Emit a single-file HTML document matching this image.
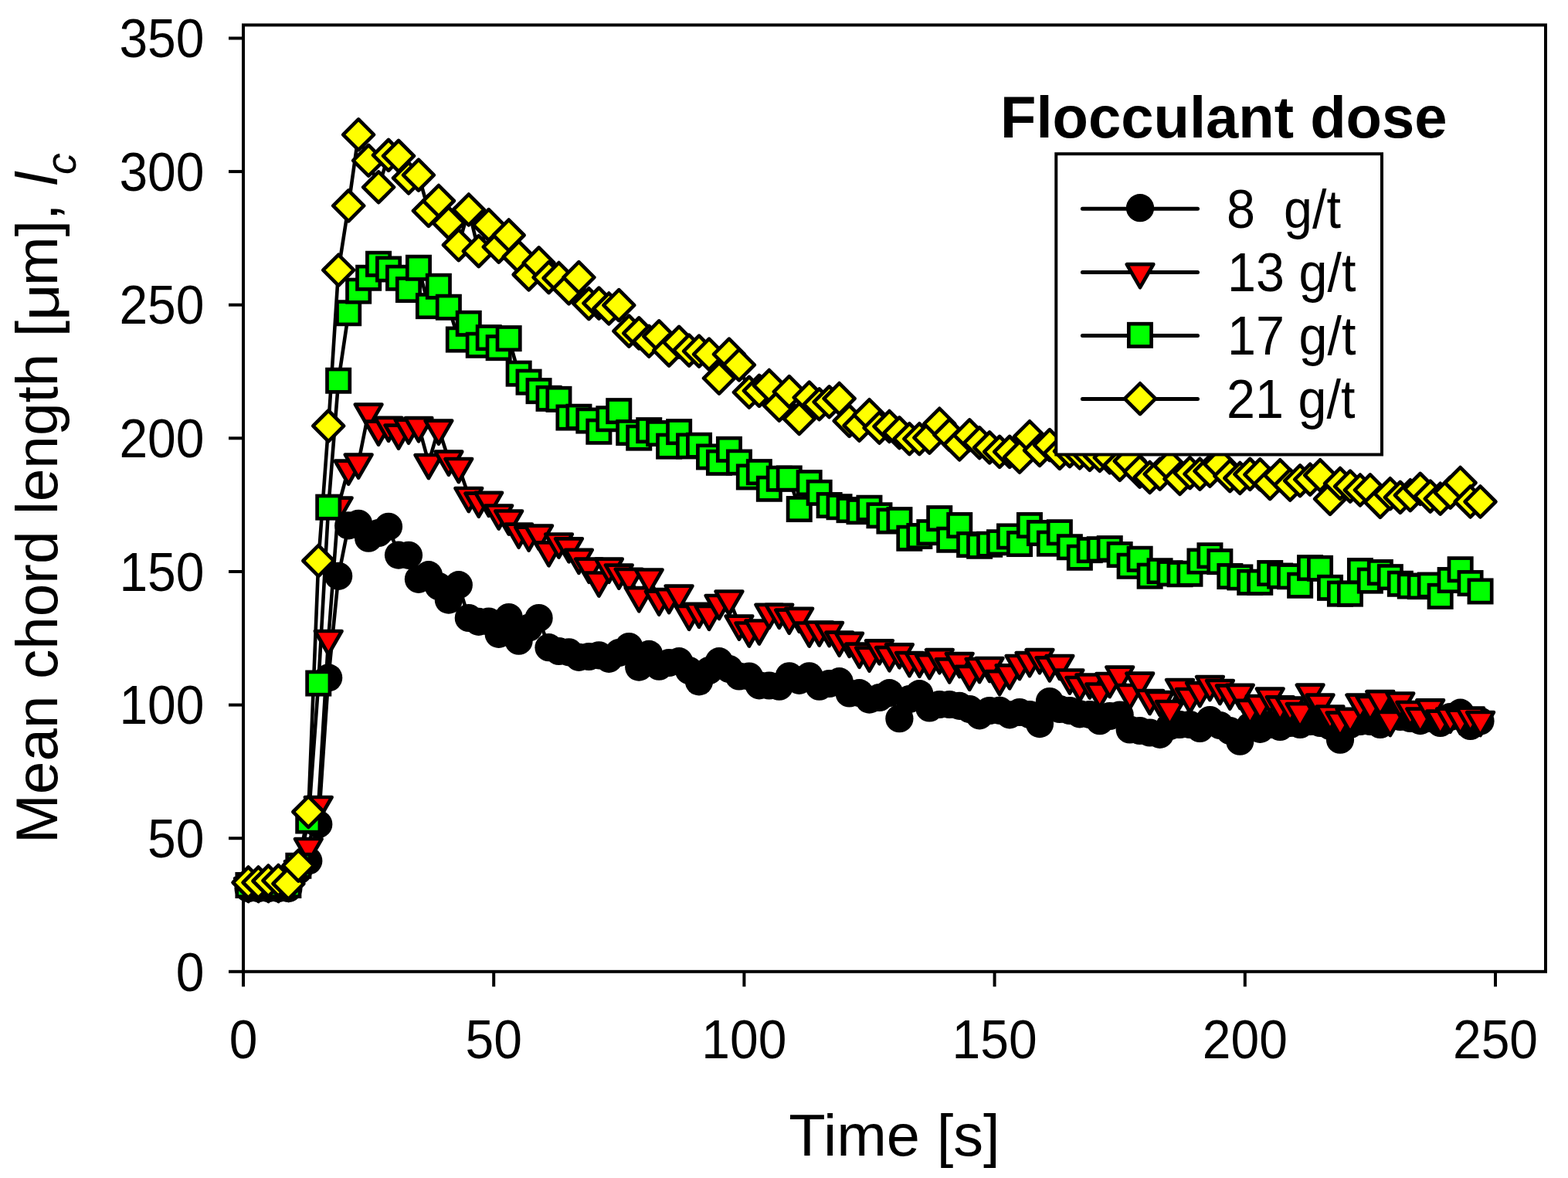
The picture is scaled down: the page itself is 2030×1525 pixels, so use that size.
<!DOCTYPE html>
<html lang="en"><head><meta charset="utf-8"><title>Mean chord length vs. time</title>
<style>html,body{margin:0;padding:0;background:#fff;}body{width:2030px;height:1525px;overflow:hidden;}svg{display:block;}text{font-family:"Liberation Sans",sans-serif;fill:#000;}</style>
</head><body>
<svg width="2030" height="1525" viewBox="0 0 2030 1525" role="img" aria-label="Mean chord length versus time for four flocculant doses">
<rect x="0" y="0" width="2030" height="1525" fill="#fff"/>
<g fill="none" stroke="#000" stroke-width="4" stroke-linecap="butt">
<rect x="315" y="32.4" width="1686" height="1225.4"/>
<line x1="296" y1="1257.8" x2="315" y2="1257.8"/>
<line x1="296" y1="1085.2" x2="315" y2="1085.2"/>
<line x1="296" y1="912.6" x2="315" y2="912.6"/>
<line x1="296" y1="740" x2="315" y2="740"/>
<line x1="296" y1="567.3" x2="315" y2="567.3"/>
<line x1="296" y1="394.7" x2="315" y2="394.7"/>
<line x1="296" y1="222.1" x2="315" y2="222.1"/>
<line x1="296" y1="49.5" x2="315" y2="49.5"/>
<line x1="315" y1="1257.8" x2="315" y2="1277.3"/>
<line x1="639.2" y1="1257.8" x2="639.2" y2="1277.3"/>
<line x1="963.4" y1="1257.8" x2="963.4" y2="1277.3"/>
<line x1="1287.6" y1="1257.8" x2="1287.6" y2="1277.3"/>
<line x1="1611.8" y1="1257.8" x2="1611.8" y2="1277.3"/>
<line x1="1936" y1="1257.8" x2="1936" y2="1277.3"/>
</g>
<g font-size="66">
<text transform="translate(264.5 1282.5) scale(1 1.065)" text-anchor="end">0</text>
<text transform="translate(264.5 1109.9) scale(1 1.065)" text-anchor="end">50</text>
<text transform="translate(264.5 937.3) scale(1 1.065)" text-anchor="end">100</text>
<text transform="translate(264.5 764.7) scale(1 1.065)" text-anchor="end">150</text>
<text transform="translate(264.5 592) scale(1 1.065)" text-anchor="end">200</text>
<text transform="translate(264.5 419.4) scale(1 1.065)" text-anchor="end">250</text>
<text transform="translate(264.5 246.8) scale(1 1.065)" text-anchor="end">300</text>
<text transform="translate(264.5 74.2) scale(1 1.065)" text-anchor="end">350</text>
<text transform="translate(315 1370) scale(1 1.065)" text-anchor="middle">0</text>
<text transform="translate(639.2 1370) scale(1 1.065)" text-anchor="middle">50</text>
<text transform="translate(963.4 1370) scale(1 1.065)" text-anchor="middle">100</text>
<text transform="translate(1287.6 1370) scale(1 1.065)" text-anchor="middle">150</text>
<text transform="translate(1611.8 1370) scale(1 1.065)" text-anchor="middle">200</text>
<text transform="translate(1936 1370) scale(1 1.065)" text-anchor="middle">250</text>
</g>
<text transform="translate(1158 1495.8) scale(1.014 1)" font-size="76.6" text-anchor="middle">Time [s]</text>
<g transform="translate(73.9 0) rotate(-90)" font-size="76.6">
<text x="-1092" y="0">Mean chord length [</text>
<text transform="translate(-415.6 2.5) scale(1.17 1)" font-size="72.2" font-family="'Liberation Serif',serif">μ</text>
<text x="-370" y="0">m],</text>
<text x="-240.3" y="0" font-style="italic">l</text>
<text x="-226" y="24.2" font-style="italic" font-size="56">c</text>
</g>
<g fill="none" stroke="#000" stroke-width="4.6" stroke-linejoin="round" stroke-linecap="round">
<polyline points="321.5,1150 334.5,1150 347.4,1150 360.4,1150 373.4,1150 386.3,1127 399.3,1114.4 412.3,1067 425.2,877.4 438.2,745.8 451.2,680.4 464.1,677.8 477.1,696.7 490.1,690 503,681.8 516,718.6 529,718.8 541.9,749.8 554.9,744.2 567.9,759 580.8,776.6 593.8,757.2 606.8,800 619.7,804.9 632.7,804.5 645.7,820.9 658.7,799 671.6,829.7 684.6,812.6 697.6,800 710.5,838.2 723.5,843 736.5,844.3 749.4,850.8 762.4,850 775.4,848.3 788.3,852.8 801.3,845 814.3,837 827.2,863.6 840.2,846.9 853.2,862.7 866.1,858 879.1,856.2 892.1,868 905,882.4 918,868 931,856.2 943.9,866 956.9,875.5 969.9,875.5 982.9,887.3 995.8,887.5 1008.8,888.7 1021.8,875.3 1034.7,880.8 1047.7,875.3 1060.7,888.7 1073.6,885 1086.6,882.2 1099.6,897.5 1112.5,897.1 1125.5,905.6 1138.5,903 1151.4,897.1 1164.4,930.2 1177.4,905 1190.3,898.1 1203.3,916.5 1216.3,912 1229.2,912 1242.2,913.9 1255.2,918 1268.1,926.3 1281.1,920 1294.1,919.8 1307.1,925.3 1320,922 1333,925 1346,937.1 1358.9,908 1371.9,918 1384.9,920 1397.8,924.3 1410.8,925 1423.8,933.2 1436.7,927 1449.7,925.5 1462.7,944.5 1475.6,946 1488.6,948.5 1501.6,950.8 1514.5,940 1527.5,938 1540.5,938 1553.4,943 1566.4,932 1579.4,939 1592.3,946 1605.3,959.7 1618.3,940 1631.3,943.9 1644.2,938 1657.2,941 1670.2,936 1683.1,938 1696.1,934 1709.1,936 1722,940 1735,957.7 1748,938 1760.9,934 1773.9,934 1786.9,938 1799.8,925.5 1812.8,928 1825.8,930 1838.7,933.1 1851.7,930 1864.7,936 1877.6,928 1890.6,922.7 1903.6,940 1916.5,933.5"/>
<polyline points="321.5,1147 334.5,1147 347.4,1147 360.4,1147 373.4,1146 386.3,1125 399.3,1096 412.3,1042 425.2,827 438.2,654.6 451.2,606.7 464.1,598.6 477.1,533.6 490.1,555.7 503,550.8 516,560.6 529,553.7 541.9,551.2 554.9,599 567.9,554.7 580.8,594.7 593.8,604 606.8,642 619.7,648.7 632.7,647.9 645.7,664.5 658.7,671.5 671.6,688.7 684.6,692.6 697.6,690.7 710.5,712.3 723.5,701.5 736.5,707.3 749.4,721.9 762.4,733.7 775.4,751.5 788.3,733.7 801.3,741.6 814.3,746.9 827.2,771.2 840.2,747.5 853.2,775.7 866.1,773.1 879.1,768.6 892.1,794.8 905,791.8 918,794.8 931,781 943.9,775.5 956.9,807.6 969.9,816.5 982.9,813.5 995.8,792.8 1008.8,792.8 1021.8,799.7 1034.7,797.8 1047.7,816.5 1060.7,815.5 1073.6,816.1 1086.6,828.7 1099.6,829.9 1112.5,843.7 1125.5,848.6 1138.5,839.3 1151.4,848.2 1164.4,844.3 1177.4,855.1 1190.3,855.7 1203.3,858.1 1216.3,851.2 1229.2,863.4 1242.2,856.1 1255.2,872.8 1268.1,863 1281.1,862 1294.1,879.1 1307.1,871.3 1320,859 1333,855.1 1346,851.2 1358.9,861.4 1371.9,859 1384.9,877.5 1397.8,887 1410.8,883.5 1423.8,895.5 1436.7,882 1449.7,873.6 1462.7,897 1475.6,881.7 1488.6,904 1501.6,906 1514.5,918 1527.5,890 1540.5,902 1553.4,894.1 1566.4,886.1 1579.4,891 1592.3,897.6 1605.3,896.9 1618.3,916.8 1631.3,911 1644.2,901.6 1657.2,912.4 1670.2,913.6 1683.1,921.2 1696.1,896.7 1709.1,909.7 1722,924.5 1735,932.6 1748,927.8 1760.9,909.7 1773.9,912 1786.9,905.2 1799.8,932 1812.8,907.5 1825.8,919 1838.7,927.6 1851.7,916.4 1864.7,930.6 1877.6,927.6 1890.6,929.6 1903.6,926.7 1916.5,932"/>
<polyline points="321.5,1146 334.5,1146 347.4,1146 360.4,1146 373.4,1146 386.3,1120.8 399.3,1062.5 412.3,884.5 425.2,656.6 438.2,492.7 451.2,405.2 464.1,376.6 477.1,359.7 490.1,341.7 503,348.4 516,359.7 529,375 541.9,346.7 554.9,396.1 567.9,370.7 580.8,397.7 593.8,439.5 606.8,418.8 619.7,446.7 632.7,437.1 645.7,450.1 658.7,438.1 671.6,483.6 684.6,494.6 697.6,506.1 710.5,515.9 723.5,516.9 736.5,540.5 749.4,539.8 762.4,544.5 775.4,558.7 788.3,542.3 801.3,532.1 814.3,560 827.2,566.6 840.2,557.1 853.2,561 866.1,577.6 879.1,559.1 892.1,577.4 905,576.8 918,591.4 931,598.9 943.9,581.9 956.9,598.5 969.9,617.4 982.9,611.1 995.8,632.8 1008.8,619.8 1021.8,619.4 1034.7,659 1047.7,625.1 1060.7,637.9 1073.6,654 1086.6,656.2 1099.6,660.1 1112.5,662.1 1125.5,657.7 1138.5,667.2 1151.4,674.5 1164.4,673.1 1177.4,696.7 1190.3,694 1203.3,689.1 1216.3,671.1 1229.2,698.7 1242.2,680 1255.2,705 1268.1,706.8 1281.1,704.8 1294.1,702.3 1307.1,694.4 1320,704 1333,680 1346,690 1358.9,703.6 1371.9,689.3 1384.9,708.2 1397.8,721.8 1410.8,712.1 1423.8,711.3 1436.7,710.1 1449.7,718 1462.7,732.8 1475.6,723.7 1488.6,745.6 1501.6,739.3 1514.5,742.3 1527.5,743.3 1540.5,742.7 1553.4,726.5 1566.4,719.2 1579.4,727.1 1592.3,746 1605.3,747.4 1618.3,753.9 1631.3,753.9 1644.2,742 1657.2,745.5 1670.2,746.3 1683.1,757.7 1696.1,735.1 1709.1,735.9 1722,760.9 1735,768.6 1748,768.6 1760.9,739 1773.9,751.6 1786.9,741 1799.8,747.1 1812.8,755.8 1825.8,758.5 1838.7,759.1 1851.7,757.5 1864.7,771.9 1877.6,751 1890.6,737.2 1903.6,755 1916.5,765.4"/>
<polyline points="321.5,1142.5 334.5,1142.5 347.4,1140.5 360.4,1140 373.4,1144 386.3,1120.7 399.3,1051 412.3,726 425.2,551.4 438.2,349.7 451.2,266.4 464.1,174.3 477.1,207.8 490.1,242.3 503,200.9 516,201.9 529,230.5 541.9,226.6 554.9,272.9 567.9,260 580.8,288.6 593.8,317.2 606.8,271.5 619.7,325.1 632.7,291.1 645.7,319.7 658.7,304.5 671.6,332.5 684.6,355.5 697.6,340.3 710.5,359.1 723.5,360 736.5,373.4 749.4,359.1 762.4,393.2 775.4,392.6 788.3,399.5 801.3,395.1 814.3,428.6 827.2,431.4 840.2,441.8 853.2,435.3 866.1,453.6 879.1,442.8 892.1,453.6 905,454.6 918,458.6 931,489.7 943.9,458.6 956.9,472.4 969.9,507.8 982.9,505.9 995.8,499 1008.8,524.8 1021.8,507.1 1034.7,542 1047.7,514.6 1060.7,523.3 1073.6,520.3 1086.6,516 1099.6,544.9 1112.5,550.8 1125.5,537.2 1138.5,553.8 1151.4,552 1164.4,560.3 1177.4,568.2 1190.3,568.2 1203.3,566.6 1216.3,548.7 1229.2,562.9 1242.2,575.5 1255.2,563.3 1268.1,573.3 1281.1,579.4 1294.1,584.9 1307.1,584.9 1320,591.8 1333,565.2 1346,583 1358.9,576.1 1371.9,586.9 1384.9,584.1 1397.8,586.5 1410.8,588.9 1423.8,590 1436.7,592.4 1449.7,601.9 1462.7,596.9 1475.6,610.7 1488.6,618 1501.6,613.7 1514.5,602.9 1527.5,620 1540.5,612.1 1553.4,613.7 1566.4,609.8 1579.4,600.9 1592.3,616.1 1605.3,619 1618.3,613.9 1631.3,614.3 1644.2,626.2 1657.2,615.2 1670.2,627.8 1683.1,622.3 1696.1,620.7 1709.1,615.2 1722,645.9 1735,626 1748,629.6 1760.9,634.5 1773.9,634.3 1786.9,649.9 1799.8,639.2 1812.8,643.9 1825.8,641.2 1838.7,632.9 1851.7,642.6 1864.7,645.7 1877.6,637.6 1890.6,625 1903.6,649.5 1916.5,649.5"/>
</g>
<g fill="#000" stroke="none">
<circle cx="321.5" cy="1150" r="18.1"/><circle cx="334.5" cy="1150" r="18.1"/><circle cx="347.4" cy="1150" r="18.1"/><circle cx="360.4" cy="1150" r="18.1"/><circle cx="373.4" cy="1150" r="18.1"/><circle cx="386.3" cy="1127" r="18.1"/><circle cx="399.3" cy="1114.4" r="18.1"/><circle cx="412.3" cy="1067" r="18.1"/><circle cx="425.2" cy="877.4" r="18.1"/><circle cx="438.2" cy="745.8" r="18.1"/><circle cx="451.2" cy="680.4" r="18.1"/><circle cx="464.1" cy="677.8" r="18.1"/><circle cx="477.1" cy="696.7" r="18.1"/><circle cx="490.1" cy="690" r="18.1"/><circle cx="503" cy="681.8" r="18.1"/><circle cx="516" cy="718.6" r="18.1"/><circle cx="529" cy="718.8" r="18.1"/><circle cx="541.9" cy="749.8" r="18.1"/><circle cx="554.9" cy="744.2" r="18.1"/><circle cx="567.9" cy="759" r="18.1"/><circle cx="580.8" cy="776.6" r="18.1"/><circle cx="593.8" cy="757.2" r="18.1"/><circle cx="606.8" cy="800" r="18.1"/><circle cx="619.7" cy="804.9" r="18.1"/><circle cx="632.7" cy="804.5" r="18.1"/><circle cx="645.7" cy="820.9" r="18.1"/><circle cx="658.7" cy="799" r="18.1"/><circle cx="671.6" cy="829.7" r="18.1"/><circle cx="684.6" cy="812.6" r="18.1"/><circle cx="697.6" cy="800" r="18.1"/><circle cx="710.5" cy="838.2" r="18.1"/><circle cx="723.5" cy="843" r="18.1"/><circle cx="736.5" cy="844.3" r="18.1"/><circle cx="749.4" cy="850.8" r="18.1"/><circle cx="762.4" cy="850" r="18.1"/><circle cx="775.4" cy="848.3" r="18.1"/><circle cx="788.3" cy="852.8" r="18.1"/><circle cx="801.3" cy="845" r="18.1"/><circle cx="814.3" cy="837" r="18.1"/><circle cx="827.2" cy="863.6" r="18.1"/><circle cx="840.2" cy="846.9" r="18.1"/><circle cx="853.2" cy="862.7" r="18.1"/><circle cx="866.1" cy="858" r="18.1"/><circle cx="879.1" cy="856.2" r="18.1"/><circle cx="892.1" cy="868" r="18.1"/><circle cx="905" cy="882.4" r="18.1"/><circle cx="918" cy="868" r="18.1"/><circle cx="931" cy="856.2" r="18.1"/><circle cx="943.9" cy="866" r="18.1"/><circle cx="956.9" cy="875.5" r="18.1"/><circle cx="969.9" cy="875.5" r="18.1"/><circle cx="982.9" cy="887.3" r="18.1"/><circle cx="995.8" cy="887.5" r="18.1"/><circle cx="1008.8" cy="888.7" r="18.1"/><circle cx="1021.8" cy="875.3" r="18.1"/><circle cx="1034.7" cy="880.8" r="18.1"/><circle cx="1047.7" cy="875.3" r="18.1"/><circle cx="1060.7" cy="888.7" r="18.1"/><circle cx="1073.6" cy="885" r="18.1"/><circle cx="1086.6" cy="882.2" r="18.1"/><circle cx="1099.6" cy="897.5" r="18.1"/><circle cx="1112.5" cy="897.1" r="18.1"/><circle cx="1125.5" cy="905.6" r="18.1"/><circle cx="1138.5" cy="903" r="18.1"/><circle cx="1151.4" cy="897.1" r="18.1"/><circle cx="1164.4" cy="930.2" r="18.1"/><circle cx="1177.4" cy="905" r="18.1"/><circle cx="1190.3" cy="898.1" r="18.1"/><circle cx="1203.3" cy="916.5" r="18.1"/><circle cx="1216.3" cy="912" r="18.1"/><circle cx="1229.2" cy="912" r="18.1"/><circle cx="1242.2" cy="913.9" r="18.1"/><circle cx="1255.2" cy="918" r="18.1"/><circle cx="1268.1" cy="926.3" r="18.1"/><circle cx="1281.1" cy="920" r="18.1"/><circle cx="1294.1" cy="919.8" r="18.1"/><circle cx="1307.1" cy="925.3" r="18.1"/><circle cx="1320" cy="922" r="18.1"/><circle cx="1333" cy="925" r="18.1"/><circle cx="1346" cy="937.1" r="18.1"/><circle cx="1358.9" cy="908" r="18.1"/><circle cx="1371.9" cy="918" r="18.1"/><circle cx="1384.9" cy="920" r="18.1"/><circle cx="1397.8" cy="924.3" r="18.1"/><circle cx="1410.8" cy="925" r="18.1"/><circle cx="1423.8" cy="933.2" r="18.1"/><circle cx="1436.7" cy="927" r="18.1"/><circle cx="1449.7" cy="925.5" r="18.1"/><circle cx="1462.7" cy="944.5" r="18.1"/><circle cx="1475.6" cy="946" r="18.1"/><circle cx="1488.6" cy="948.5" r="18.1"/><circle cx="1501.6" cy="950.8" r="18.1"/><circle cx="1514.5" cy="940" r="18.1"/><circle cx="1527.5" cy="938" r="18.1"/><circle cx="1540.5" cy="938" r="18.1"/><circle cx="1553.4" cy="943" r="18.1"/><circle cx="1566.4" cy="932" r="18.1"/><circle cx="1579.4" cy="939" r="18.1"/><circle cx="1592.3" cy="946" r="18.1"/><circle cx="1605.3" cy="959.7" r="18.1"/><circle cx="1618.3" cy="940" r="18.1"/><circle cx="1631.3" cy="943.9" r="18.1"/><circle cx="1644.2" cy="938" r="18.1"/><circle cx="1657.2" cy="941" r="18.1"/><circle cx="1670.2" cy="936" r="18.1"/><circle cx="1683.1" cy="938" r="18.1"/><circle cx="1696.1" cy="934" r="18.1"/><circle cx="1709.1" cy="936" r="18.1"/><circle cx="1722" cy="940" r="18.1"/><circle cx="1735" cy="957.7" r="18.1"/><circle cx="1748" cy="938" r="18.1"/><circle cx="1760.9" cy="934" r="18.1"/><circle cx="1773.9" cy="934" r="18.1"/><circle cx="1786.9" cy="938" r="18.1"/><circle cx="1799.8" cy="925.5" r="18.1"/><circle cx="1812.8" cy="928" r="18.1"/><circle cx="1825.8" cy="930" r="18.1"/><circle cx="1838.7" cy="933.1" r="18.1"/><circle cx="1851.7" cy="930" r="18.1"/><circle cx="1864.7" cy="936" r="18.1"/><circle cx="1877.6" cy="928" r="18.1"/><circle cx="1890.6" cy="922.7" r="18.1"/><circle cx="1903.6" cy="940" r="18.1"/><circle cx="1916.5" cy="933.5" r="18.1"/>
</g>
<g fill="#ff0000" stroke="#000" stroke-width="4.7" stroke-linejoin="round">
<path d="M304.2 1137L338.8 1137L321.5 1167Z"/><path d="M317.1 1137L351.8 1137L334.5 1167Z"/><path d="M330.1 1137L364.7 1137L347.4 1167Z"/><path d="M343.1 1137L377.7 1137L360.4 1167Z"/><path d="M356 1136L390.7 1136L373.4 1166Z"/><path d="M369 1115L403.6 1115L386.3 1145Z"/><path d="M382 1086L416.6 1086L399.3 1116Z"/><path d="M394.9 1032L429.6 1032L412.3 1062Z"/><path d="M407.9 817L442.5 817L425.2 847Z"/><path d="M420.9 644.6L455.5 644.6L438.2 674.6Z"/><path d="M433.8 596.7L468.5 596.7L451.2 626.7Z"/><path d="M446.8 588.6L481.5 588.6L464.1 618.6Z"/><path d="M459.8 523.6L494.4 523.6L477.1 553.6Z"/><path d="M472.7 545.7L507.4 545.7L490.1 575.7Z"/><path d="M485.7 540.8L520.4 540.8L503 570.8Z"/><path d="M498.7 550.6L533.3 550.6L516 580.6Z"/><path d="M511.7 543.7L546.3 543.7L529 573.7Z"/><path d="M524.6 541.2L559.3 541.2L541.9 571.2Z"/><path d="M537.6 589L572.2 589L554.9 619Z"/><path d="M550.6 544.7L585.2 544.7L567.9 574.7Z"/><path d="M563.5 584.7L598.2 584.7L580.8 614.7Z"/><path d="M576.5 594L611.1 594L593.8 624Z"/><path d="M589.5 632L624.1 632L606.8 662Z"/><path d="M602.4 638.7L637.1 638.7L619.7 668.7Z"/><path d="M615.4 637.9L650 637.9L632.7 667.9Z"/><path d="M628.4 654.5L663 654.5L645.7 684.5Z"/><path d="M641.3 661.5L676 661.5L658.7 691.5Z"/><path d="M654.3 678.7L688.9 678.7L671.6 708.7Z"/><path d="M667.3 682.6L701.9 682.6L684.6 712.6Z"/><path d="M680.2 680.7L714.9 680.7L697.6 710.7Z"/><path d="M693.2 702.3L727.8 702.3L710.5 732.3Z"/><path d="M706.2 691.5L740.8 691.5L723.5 721.5Z"/><path d="M719.1 697.3L753.8 697.3L736.5 727.3Z"/><path d="M732.1 711.9L766.7 711.9L749.4 741.9Z"/><path d="M745.1 723.7L779.7 723.7L762.4 753.7Z"/><path d="M758 741.5L792.7 741.5L775.4 771.5Z"/><path d="M771 723.7L805.7 723.7L788.3 753.7Z"/><path d="M784 731.6L818.6 731.6L801.3 761.6Z"/><path d="M796.9 736.9L831.6 736.9L814.3 766.9Z"/><path d="M809.9 761.2L844.6 761.2L827.2 791.2Z"/><path d="M822.9 737.5L857.5 737.5L840.2 767.5Z"/><path d="M835.9 765.7L870.5 765.7L853.2 795.7Z"/><path d="M848.8 763.1L883.5 763.1L866.1 793.1Z"/><path d="M861.8 758.6L896.4 758.6L879.1 788.6Z"/><path d="M874.8 784.8L909.4 784.8L892.1 814.8Z"/><path d="M887.7 781.8L922.4 781.8L905 811.8Z"/><path d="M900.7 784.8L935.3 784.8L918 814.8Z"/><path d="M913.7 771L948.3 771L931 801Z"/><path d="M926.6 765.5L961.3 765.5L943.9 795.5Z"/><path d="M939.6 797.6L974.2 797.6L956.9 827.6Z"/><path d="M952.6 806.5L987.2 806.5L969.9 836.5Z"/><path d="M965.5 803.5L1000.2 803.5L982.9 833.5Z"/><path d="M978.5 782.8L1013.1 782.8L995.8 812.8Z"/><path d="M991.5 782.8L1026.1 782.8L1008.8 812.8Z"/><path d="M1004.4 789.7L1039.1 789.7L1021.8 819.7Z"/><path d="M1017.4 787.8L1052 787.8L1034.7 817.8Z"/><path d="M1030.4 806.5L1065 806.5L1047.7 836.5Z"/><path d="M1043.3 805.5L1078 805.5L1060.7 835.5Z"/><path d="M1056.3 806.1L1090.9 806.1L1073.6 836.1Z"/><path d="M1069.3 818.7L1103.9 818.7L1086.6 848.7Z"/><path d="M1082.2 819.9L1116.9 819.9L1099.6 849.9Z"/><path d="M1095.2 833.7L1129.9 833.7L1112.5 863.7Z"/><path d="M1108.2 838.6L1142.8 838.6L1125.5 868.6Z"/><path d="M1121.1 829.3L1155.8 829.3L1138.5 859.3Z"/><path d="M1134.1 838.2L1168.8 838.2L1151.4 868.2Z"/><path d="M1147.1 834.3L1181.7 834.3L1164.4 864.3Z"/><path d="M1160.1 845.1L1194.7 845.1L1177.4 875.1Z"/><path d="M1173 845.7L1207.7 845.7L1190.3 875.7Z"/><path d="M1186 848.1L1220.6 848.1L1203.3 878.1Z"/><path d="M1199 841.2L1233.6 841.2L1216.3 871.2Z"/><path d="M1211.9 853.4L1246.6 853.4L1229.2 883.4Z"/><path d="M1224.9 846.1L1259.5 846.1L1242.2 876.1Z"/><path d="M1237.9 862.8L1272.5 862.8L1255.2 892.8Z"/><path d="M1250.8 853L1285.5 853L1268.1 883Z"/><path d="M1263.8 852L1298.4 852L1281.1 882Z"/><path d="M1276.8 869.1L1311.4 869.1L1294.1 899.1Z"/><path d="M1289.7 861.3L1324.4 861.3L1307.1 891.3Z"/><path d="M1302.7 849L1337.3 849L1320 879Z"/><path d="M1315.7 845.1L1350.3 845.1L1333 875.1Z"/><path d="M1328.6 841.2L1363.3 841.2L1346 871.2Z"/><path d="M1341.6 851.4L1376.2 851.4L1358.9 881.4Z"/><path d="M1354.6 849L1389.2 849L1371.9 879Z"/><path d="M1367.5 867.5L1402.2 867.5L1384.9 897.5Z"/><path d="M1380.5 877L1415.1 877L1397.8 907Z"/><path d="M1393.5 873.5L1428.1 873.5L1410.8 903.5Z"/><path d="M1406.4 885.5L1441.1 885.5L1423.8 915.5Z"/><path d="M1419.4 872L1454.1 872L1436.7 902Z"/><path d="M1432.4 863.6L1467 863.6L1449.7 893.6Z"/><path d="M1445.3 887L1480 887L1462.7 917Z"/><path d="M1458.3 871.7L1493 871.7L1475.6 901.7Z"/><path d="M1471.3 894L1505.9 894L1488.6 924Z"/><path d="M1484.3 896L1518.9 896L1501.6 926Z"/><path d="M1497.2 908L1531.9 908L1514.5 938Z"/><path d="M1510.2 880L1544.8 880L1527.5 910Z"/><path d="M1523.2 892L1557.8 892L1540.5 922Z"/><path d="M1536.1 884.1L1570.8 884.1L1553.4 914.1Z"/><path d="M1549.1 876.1L1583.7 876.1L1566.4 906.1Z"/><path d="M1562.1 881L1596.7 881L1579.4 911Z"/><path d="M1575 887.6L1609.7 887.6L1592.3 917.6Z"/><path d="M1588 886.9L1622.6 886.9L1605.3 916.9Z"/><path d="M1601 906.8L1635.6 906.8L1618.3 936.8Z"/><path d="M1613.9 901L1648.6 901L1631.3 931Z"/><path d="M1626.9 891.6L1661.5 891.6L1644.2 921.6Z"/><path d="M1639.9 902.4L1674.5 902.4L1657.2 932.4Z"/><path d="M1652.8 903.6L1687.5 903.6L1670.2 933.6Z"/><path d="M1665.8 911.2L1700.4 911.2L1683.1 941.2Z"/><path d="M1678.8 886.7L1713.4 886.7L1696.1 916.7Z"/><path d="M1691.7 899.7L1726.4 899.7L1709.1 929.7Z"/><path d="M1704.7 914.5L1739.3 914.5L1722 944.5Z"/><path d="M1717.7 922.6L1752.3 922.6L1735 952.6Z"/><path d="M1730.6 917.8L1765.3 917.8L1748 947.8Z"/><path d="M1743.6 899.7L1778.3 899.7L1760.9 929.7Z"/><path d="M1756.6 902L1791.2 902L1773.9 932Z"/><path d="M1769.5 895.2L1804.2 895.2L1786.9 925.2Z"/><path d="M1782.5 922L1817.2 922L1799.8 952Z"/><path d="M1795.5 897.5L1830.1 897.5L1812.8 927.5Z"/><path d="M1808.5 909L1843.1 909L1825.8 939Z"/><path d="M1821.4 917.6L1856.1 917.6L1838.7 947.6Z"/><path d="M1834.4 906.4L1869 906.4L1851.7 936.4Z"/><path d="M1847.4 920.6L1882 920.6L1864.7 950.6Z"/><path d="M1860.3 917.6L1895 917.6L1877.6 947.6Z"/><path d="M1873.3 919.6L1907.9 919.6L1890.6 949.6Z"/><path d="M1886.3 916.7L1920.9 916.7L1903.6 946.7Z"/><path d="M1899.2 922L1933.9 922L1916.5 952Z"/>
</g>
<g fill="#00ff00" stroke="#000" stroke-width="4.7" stroke-linejoin="miter">
<rect x="306.8" y="1131.3" width="29.3" height="29.3"/><rect x="319.8" y="1131.3" width="29.3" height="29.3"/><rect x="332.8" y="1131.3" width="29.3" height="29.3"/><rect x="345.7" y="1131.3" width="29.3" height="29.3"/><rect x="358.7" y="1131.3" width="29.3" height="29.3"/><rect x="371.7" y="1106.1" width="29.3" height="29.3"/><rect x="384.6" y="1047.8" width="29.3" height="29.3"/><rect x="397.6" y="869.9" width="29.3" height="29.3"/><rect x="410.6" y="642" width="29.3" height="29.3"/><rect x="423.5" y="478.1" width="29.3" height="29.3"/><rect x="436.5" y="390.6" width="29.3" height="29.3"/><rect x="449.5" y="362" width="29.3" height="29.3"/><rect x="462.5" y="345.1" width="29.3" height="29.3"/><rect x="475.4" y="327.1" width="29.3" height="29.3"/><rect x="488.4" y="333.8" width="29.3" height="29.3"/><rect x="501.4" y="345.1" width="29.3" height="29.3"/><rect x="514.3" y="360.4" width="29.3" height="29.3"/><rect x="527.3" y="332.1" width="29.3" height="29.3"/><rect x="540.3" y="381.5" width="29.3" height="29.3"/><rect x="553.2" y="356.1" width="29.3" height="29.3"/><rect x="566.2" y="383.1" width="29.3" height="29.3"/><rect x="579.2" y="424.9" width="29.3" height="29.3"/><rect x="592.1" y="404.2" width="29.3" height="29.3"/><rect x="605.1" y="432.1" width="29.3" height="29.3"/><rect x="618.1" y="422.5" width="29.3" height="29.3"/><rect x="631" y="435.5" width="29.3" height="29.3"/><rect x="644" y="423.5" width="29.3" height="29.3"/><rect x="657" y="469" width="29.3" height="29.3"/><rect x="669.9" y="480" width="29.3" height="29.3"/><rect x="682.9" y="491.5" width="29.3" height="29.3"/><rect x="695.9" y="501.2" width="29.3" height="29.3"/><rect x="708.8" y="502.2" width="29.3" height="29.3"/><rect x="721.8" y="525.9" width="29.3" height="29.3"/><rect x="734.8" y="525.1" width="29.3" height="29.3"/><rect x="747.7" y="529.9" width="29.3" height="29.3"/><rect x="760.7" y="544.1" width="29.3" height="29.3"/><rect x="773.7" y="527.6" width="29.3" height="29.3"/><rect x="786.6" y="517.5" width="29.3" height="29.3"/><rect x="799.6" y="545.4" width="29.3" height="29.3"/><rect x="812.6" y="552" width="29.3" height="29.3"/><rect x="825.6" y="542.5" width="29.3" height="29.3"/><rect x="838.5" y="546.4" width="29.3" height="29.3"/><rect x="851.5" y="563" width="29.3" height="29.3"/><rect x="864.5" y="544.5" width="29.3" height="29.3"/><rect x="877.4" y="562.8" width="29.3" height="29.3"/><rect x="890.4" y="562.1" width="29.3" height="29.3"/><rect x="903.4" y="576.8" width="29.3" height="29.3"/><rect x="916.3" y="584.2" width="29.3" height="29.3"/><rect x="929.3" y="567.2" width="29.3" height="29.3"/><rect x="942.3" y="583.9" width="29.3" height="29.3"/><rect x="955.2" y="602.8" width="29.3" height="29.3"/><rect x="968.2" y="596.5" width="29.3" height="29.3"/><rect x="981.2" y="618.1" width="29.3" height="29.3"/><rect x="994.1" y="605.1" width="29.3" height="29.3"/><rect x="1007.1" y="604.8" width="29.3" height="29.3"/><rect x="1020.1" y="644.4" width="29.3" height="29.3"/><rect x="1033" y="610.5" width="29.3" height="29.3"/><rect x="1046" y="623.2" width="29.3" height="29.3"/><rect x="1059" y="639.4" width="29.3" height="29.3"/><rect x="1071.9" y="641.6" width="29.3" height="29.3"/><rect x="1084.9" y="645.5" width="29.3" height="29.3"/><rect x="1097.9" y="647.5" width="29.3" height="29.3"/><rect x="1110.8" y="643.1" width="29.3" height="29.3"/><rect x="1123.8" y="652.6" width="29.3" height="29.3"/><rect x="1136.8" y="659.9" width="29.3" height="29.3"/><rect x="1149.8" y="658.5" width="29.3" height="29.3"/><rect x="1162.7" y="682.1" width="29.3" height="29.3"/><rect x="1175.7" y="679.4" width="29.3" height="29.3"/><rect x="1188.7" y="674.5" width="29.3" height="29.3"/><rect x="1201.6" y="656.5" width="29.3" height="29.3"/><rect x="1214.6" y="684.1" width="29.3" height="29.3"/><rect x="1227.6" y="665.4" width="29.3" height="29.3"/><rect x="1240.5" y="690.4" width="29.3" height="29.3"/><rect x="1253.5" y="692.1" width="29.3" height="29.3"/><rect x="1266.5" y="690.1" width="29.3" height="29.3"/><rect x="1279.4" y="687.6" width="29.3" height="29.3"/><rect x="1292.4" y="679.8" width="29.3" height="29.3"/><rect x="1305.4" y="689.4" width="29.3" height="29.3"/><rect x="1318.3" y="665.4" width="29.3" height="29.3"/><rect x="1331.3" y="675.4" width="29.3" height="29.3"/><rect x="1344.3" y="689" width="29.3" height="29.3"/><rect x="1357.2" y="674.6" width="29.3" height="29.3"/><rect x="1370.2" y="693.6" width="29.3" height="29.3"/><rect x="1383.2" y="707.1" width="29.3" height="29.3"/><rect x="1396.1" y="697.5" width="29.3" height="29.3"/><rect x="1409.1" y="696.6" width="29.3" height="29.3"/><rect x="1422.1" y="695.5" width="29.3" height="29.3"/><rect x="1435" y="703.4" width="29.3" height="29.3"/><rect x="1448" y="718.1" width="29.3" height="29.3"/><rect x="1461" y="709.1" width="29.3" height="29.3"/><rect x="1474" y="731" width="29.3" height="29.3"/><rect x="1486.9" y="724.6" width="29.3" height="29.3"/><rect x="1499.9" y="727.6" width="29.3" height="29.3"/><rect x="1512.9" y="728.6" width="29.3" height="29.3"/><rect x="1525.8" y="728.1" width="29.3" height="29.3"/><rect x="1538.8" y="711.9" width="29.3" height="29.3"/><rect x="1551.8" y="704.6" width="29.3" height="29.3"/><rect x="1564.7" y="712.5" width="29.3" height="29.3"/><rect x="1577.7" y="731.4" width="29.3" height="29.3"/><rect x="1590.7" y="732.8" width="29.3" height="29.3"/><rect x="1603.6" y="739.2" width="29.3" height="29.3"/><rect x="1616.6" y="739.2" width="29.3" height="29.3"/><rect x="1629.6" y="727.4" width="29.3" height="29.3"/><rect x="1642.5" y="730.9" width="29.3" height="29.3"/><rect x="1655.5" y="731.6" width="29.3" height="29.3"/><rect x="1668.5" y="743.1" width="29.3" height="29.3"/><rect x="1681.4" y="720.5" width="29.3" height="29.3"/><rect x="1694.4" y="721.2" width="29.3" height="29.3"/><rect x="1707.4" y="746.2" width="29.3" height="29.3"/><rect x="1720.3" y="754" width="29.3" height="29.3"/><rect x="1733.3" y="754" width="29.3" height="29.3"/><rect x="1746.3" y="724.4" width="29.3" height="29.3"/><rect x="1759.2" y="737" width="29.3" height="29.3"/><rect x="1772.2" y="726.4" width="29.3" height="29.3"/><rect x="1785.2" y="732.5" width="29.3" height="29.3"/><rect x="1798.2" y="741.1" width="29.3" height="29.3"/><rect x="1811.1" y="743.9" width="29.3" height="29.3"/><rect x="1824.1" y="744.5" width="29.3" height="29.3"/><rect x="1837.1" y="742.9" width="29.3" height="29.3"/><rect x="1850" y="757.2" width="29.3" height="29.3"/><rect x="1863" y="736.4" width="29.3" height="29.3"/><rect x="1876" y="722.6" width="29.3" height="29.3"/><rect x="1888.9" y="740.4" width="29.3" height="29.3"/><rect x="1901.9" y="750.8" width="29.3" height="29.3"/>
</g>
<g fill="#ffff00" stroke="#000" stroke-width="4.7" stroke-linejoin="round">
<path d="M321.5 1122.6L341.4 1142.5L321.5 1162.4L301.6 1142.5Z"/><path d="M334.5 1122.6L354.4 1142.5L334.5 1162.4L314.6 1142.5Z"/><path d="M347.4 1120.6L367.3 1140.5L347.4 1160.4L327.5 1140.5Z"/><path d="M360.4 1120.1L380.3 1140L360.4 1159.9L340.5 1140Z"/><path d="M373.4 1124.1L393.3 1144L373.4 1163.9L353.5 1144Z"/><path d="M386.3 1100.8L406.2 1120.7L386.3 1140.6L366.4 1120.7Z"/><path d="M399.3 1031.1L419.2 1051L399.3 1070.9L379.4 1051Z"/><path d="M412.3 706.1L432.2 726L412.3 745.9L392.4 726Z"/><path d="M425.2 531.5L445.1 551.4L425.2 571.3L405.3 551.4Z"/><path d="M438.2 329.8L458.1 349.7L438.2 369.6L418.3 349.7Z"/><path d="M451.2 246.5L471.1 266.4L451.2 286.3L431.3 266.4Z"/><path d="M464.1 154.4L484 174.3L464.1 194.2L444.2 174.3Z"/><path d="M477.1 187.9L497 207.8L477.1 227.7L457.2 207.8Z"/><path d="M490.1 222.4L510 242.3L490.1 262.2L470.2 242.3Z"/><path d="M503 181L522.9 200.9L503 220.8L483.1 200.9Z"/><path d="M516 182L535.9 201.9L516 221.8L496.1 201.9Z"/><path d="M529 210.6L548.9 230.5L529 250.4L509.1 230.5Z"/><path d="M541.9 206.7L561.8 226.6L541.9 246.5L522 226.6Z"/><path d="M554.9 253L574.8 272.9L554.9 292.8L535 272.9Z"/><path d="M567.9 240.1L587.8 260L567.9 279.9L548 260Z"/><path d="M580.8 268.7L600.7 288.6L580.8 308.5L560.9 288.6Z"/><path d="M593.8 297.3L613.7 317.2L593.8 337.1L573.9 317.2Z"/><path d="M606.8 251.6L626.7 271.5L606.8 291.4L586.9 271.5Z"/><path d="M619.7 305.2L639.6 325.1L619.7 345L599.8 325.1Z"/><path d="M632.7 271.2L652.6 291.1L632.7 311L612.8 291.1Z"/><path d="M645.7 299.8L665.6 319.7L645.7 339.6L625.8 319.7Z"/><path d="M658.7 284.6L678.6 304.5L658.7 324.4L638.8 304.5Z"/><path d="M671.6 312.6L691.5 332.5L671.6 352.4L651.7 332.5Z"/><path d="M684.6 335.6L704.5 355.5L684.6 375.4L664.7 355.5Z"/><path d="M697.6 320.4L717.5 340.3L697.6 360.2L677.7 340.3Z"/><path d="M710.5 339.2L730.4 359.1L710.5 379L690.6 359.1Z"/><path d="M723.5 340.1L743.4 360L723.5 379.9L703.6 360Z"/><path d="M736.5 353.5L756.4 373.4L736.5 393.3L716.6 373.4Z"/><path d="M749.4 339.2L769.3 359.1L749.4 379L729.5 359.1Z"/><path d="M762.4 373.3L782.3 393.2L762.4 413.1L742.5 393.2Z"/><path d="M775.4 372.7L795.3 392.6L775.4 412.5L755.5 392.6Z"/><path d="M788.3 379.6L808.2 399.5L788.3 419.4L768.4 399.5Z"/><path d="M801.3 375.2L821.2 395.1L801.3 415L781.4 395.1Z"/><path d="M814.3 408.7L834.2 428.6L814.3 448.5L794.4 428.6Z"/><path d="M827.2 411.5L847.1 431.4L827.2 451.3L807.3 431.4Z"/><path d="M840.2 421.9L860.1 441.8L840.2 461.7L820.3 441.8Z"/><path d="M853.2 415.4L873.1 435.3L853.2 455.2L833.3 435.3Z"/><path d="M866.1 433.7L886 453.6L866.1 473.5L846.2 453.6Z"/><path d="M879.1 422.9L899 442.8L879.1 462.7L859.2 442.8Z"/><path d="M892.1 433.7L912 453.6L892.1 473.5L872.2 453.6Z"/><path d="M905 434.7L924.9 454.6L905 474.5L885.1 454.6Z"/><path d="M918 438.7L937.9 458.6L918 478.5L898.1 458.6Z"/><path d="M931 469.8L950.9 489.7L931 509.6L911.1 489.7Z"/><path d="M943.9 438.7L963.8 458.6L943.9 478.5L924 458.6Z"/><path d="M956.9 452.5L976.8 472.4L956.9 492.3L937 472.4Z"/><path d="M969.9 487.9L989.8 507.8L969.9 527.7L950 507.8Z"/><path d="M982.9 486L1002.8 505.9L982.9 525.8L963 505.9Z"/><path d="M995.8 479.1L1015.7 499L995.8 518.9L975.9 499Z"/><path d="M1008.8 504.9L1028.7 524.8L1008.8 544.7L988.9 524.8Z"/><path d="M1021.8 487.2L1041.7 507.1L1021.8 527L1001.9 507.1Z"/><path d="M1034.7 522.1L1054.6 542L1034.7 561.9L1014.8 542Z"/><path d="M1047.7 494.7L1067.6 514.6L1047.7 534.5L1027.8 514.6Z"/><path d="M1060.7 503.4L1080.6 523.3L1060.7 543.2L1040.8 523.3Z"/><path d="M1073.6 500.4L1093.5 520.3L1073.6 540.2L1053.7 520.3Z"/><path d="M1086.6 496.1L1106.5 516L1086.6 535.9L1066.7 516Z"/><path d="M1099.6 525L1119.5 544.9L1099.6 564.8L1079.7 544.9Z"/><path d="M1112.5 530.9L1132.4 550.8L1112.5 570.7L1092.6 550.8Z"/><path d="M1125.5 517.3L1145.4 537.2L1125.5 557.1L1105.6 537.2Z"/><path d="M1138.5 533.9L1158.4 553.8L1138.5 573.7L1118.6 553.8Z"/><path d="M1151.4 532.1L1171.3 552L1151.4 571.9L1131.5 552Z"/><path d="M1164.4 540.4L1184.3 560.3L1164.4 580.2L1144.5 560.3Z"/><path d="M1177.4 548.3L1197.3 568.2L1177.4 588.1L1157.5 568.2Z"/><path d="M1190.3 548.3L1210.2 568.2L1190.3 588.1L1170.4 568.2Z"/><path d="M1203.3 546.7L1223.2 566.6L1203.3 586.5L1183.4 566.6Z"/><path d="M1216.3 528.8L1236.2 548.7L1216.3 568.6L1196.4 548.7Z"/><path d="M1229.2 543L1249.1 562.9L1229.2 582.8L1209.3 562.9Z"/><path d="M1242.2 555.6L1262.1 575.5L1242.2 595.4L1222.3 575.5Z"/><path d="M1255.2 543.4L1275.1 563.3L1255.2 583.2L1235.3 563.3Z"/><path d="M1268.1 553.4L1288 573.3L1268.1 593.2L1248.2 573.3Z"/><path d="M1281.1 559.5L1301 579.4L1281.1 599.3L1261.2 579.4Z"/><path d="M1294.1 565L1314 584.9L1294.1 604.8L1274.2 584.9Z"/><path d="M1307.1 565L1327 584.9L1307.1 604.8L1287.2 584.9Z"/><path d="M1320 571.9L1339.9 591.8L1320 611.7L1300.1 591.8Z"/><path d="M1333 545.3L1352.9 565.2L1333 585.1L1313.1 565.2Z"/><path d="M1346 563.1L1365.9 583L1346 602.9L1326.1 583Z"/><path d="M1358.9 556.2L1378.8 576.1L1358.9 596L1339 576.1Z"/><path d="M1371.9 567L1391.8 586.9L1371.9 606.8L1352 586.9Z"/><path d="M1384.9 564.2L1404.8 584.1L1384.9 604L1365 584.1Z"/><path d="M1397.8 566.6L1417.7 586.5L1397.8 606.4L1377.9 586.5Z"/><path d="M1410.8 569L1430.7 588.9L1410.8 608.8L1390.9 588.9Z"/><path d="M1423.8 570.1L1443.7 590L1423.8 609.9L1403.9 590Z"/><path d="M1436.7 572.5L1456.6 592.4L1436.7 612.3L1416.8 592.4Z"/><path d="M1449.7 582L1469.6 601.9L1449.7 621.8L1429.8 601.9Z"/><path d="M1462.7 577L1482.6 596.9L1462.7 616.8L1442.8 596.9Z"/><path d="M1475.6 590.8L1495.5 610.7L1475.6 630.6L1455.7 610.7Z"/><path d="M1488.6 598.1L1508.5 618L1488.6 637.9L1468.7 618Z"/><path d="M1501.6 593.8L1521.5 613.7L1501.6 633.6L1481.7 613.7Z"/><path d="M1514.5 583L1534.4 602.9L1514.5 622.8L1494.6 602.9Z"/><path d="M1527.5 600.1L1547.4 620L1527.5 639.9L1507.6 620Z"/><path d="M1540.5 592.2L1560.4 612.1L1540.5 632L1520.6 612.1Z"/><path d="M1553.4 593.8L1573.3 613.7L1553.4 633.6L1533.5 613.7Z"/><path d="M1566.4 589.9L1586.3 609.8L1566.4 629.7L1546.5 609.8Z"/><path d="M1579.4 581L1599.3 600.9L1579.4 620.8L1559.5 600.9Z"/><path d="M1592.3 596.2L1612.2 616.1L1592.3 636L1572.4 616.1Z"/><path d="M1605.3 599.1L1625.2 619L1605.3 638.9L1585.4 619Z"/><path d="M1618.3 594L1638.2 613.9L1618.3 633.8L1598.4 613.9Z"/><path d="M1631.3 594.4L1651.2 614.3L1631.3 634.2L1611.4 614.3Z"/><path d="M1644.2 606.3L1664.1 626.2L1644.2 646.1L1624.3 626.2Z"/><path d="M1657.2 595.3L1677.1 615.2L1657.2 635.1L1637.3 615.2Z"/><path d="M1670.2 607.9L1690.1 627.8L1670.2 647.7L1650.3 627.8Z"/><path d="M1683.1 602.4L1703 622.3L1683.1 642.2L1663.2 622.3Z"/><path d="M1696.1 600.8L1716 620.7L1696.1 640.6L1676.2 620.7Z"/><path d="M1709.1 595.3L1729 615.2L1709.1 635.1L1689.2 615.2Z"/><path d="M1722 626L1741.9 645.9L1722 665.8L1702.1 645.9Z"/><path d="M1735 606.1L1754.9 626L1735 645.9L1715.1 626Z"/><path d="M1748 609.7L1767.9 629.6L1748 649.5L1728.1 629.6Z"/><path d="M1760.9 614.6L1780.8 634.5L1760.9 654.4L1741 634.5Z"/><path d="M1773.9 614.4L1793.8 634.3L1773.9 654.2L1754 634.3Z"/><path d="M1786.9 630L1806.8 649.9L1786.9 669.8L1767 649.9Z"/><path d="M1799.8 619.3L1819.7 639.2L1799.8 659.1L1779.9 639.2Z"/><path d="M1812.8 624L1832.7 643.9L1812.8 663.8L1792.9 643.9Z"/><path d="M1825.8 621.3L1845.7 641.2L1825.8 661.1L1805.9 641.2Z"/><path d="M1838.7 613L1858.6 632.9L1838.7 652.8L1818.8 632.9Z"/><path d="M1851.7 622.7L1871.6 642.6L1851.7 662.5L1831.8 642.6Z"/><path d="M1864.7 625.8L1884.6 645.7L1864.7 665.6L1844.8 645.7Z"/><path d="M1877.6 617.7L1897.5 637.6L1877.6 657.5L1857.7 637.6Z"/><path d="M1890.6 605.1L1910.5 625L1890.6 644.9L1870.7 625Z"/><path d="M1903.6 629.6L1923.5 649.5L1903.6 669.4L1883.7 649.5Z"/><path d="M1916.5 629.6L1936.4 649.5L1916.5 669.4L1896.6 649.5Z"/>
</g>
<rect x="1367.3" y="199.2" width="421.7" height="389.3" fill="#fff" stroke="#000" stroke-width="4"/>
<text x="1295" y="178" font-size="76" font-weight="bold">Flocculant dose</text>
<line x1="1401.4" y1="270.3" x2="1550.5" y2="270.3" stroke="#000" stroke-width="5" stroke-linecap="round"/>
<g fill="#000" stroke="none"><circle cx="1476" cy="269.2" r="18.1"/></g>
<text transform="translate(1588 294.5) scale(1 1.065)" font-size="66.5" style="white-space:pre">8  g/t</text>
<line x1="1401.4" y1="352.5" x2="1550.5" y2="352.5" stroke="#000" stroke-width="5" stroke-linecap="round"/>
<g fill="#ff0000" stroke="#000" stroke-width="4.7" stroke-linejoin="round"><path d="M1458.7 342.2L1493.3 342.2L1476 372.2Z"/></g>
<text transform="translate(1589 376.5) scale(1 1.065)" font-size="66.5" style="white-space:pre">13 g/t</text>
<line x1="1401.4" y1="434.6" x2="1550.5" y2="434.6" stroke="#000" stroke-width="5" stroke-linecap="round"/>
<g fill="#00ff00" stroke="#000" stroke-width="4.7" stroke-linejoin="miter"><rect x="1461.3" y="419.2" width="29.3" height="29.3"/></g>
<text transform="translate(1589 458.8) scale(1 1.065)" font-size="66.5" style="white-space:pre">17 g/t</text>
<line x1="1401.4" y1="516.5" x2="1550.5" y2="516.5" stroke="#000" stroke-width="5" stroke-linecap="round"/>
<g fill="#ffff00" stroke="#000" stroke-width="4.7" stroke-linejoin="round"><path d="M1476 496.3L1495.9 516.2L1476 536.1L1456.1 516.2Z"/></g>
<text transform="translate(1588 540.5) scale(1 1.065)" font-size="66.5" style="white-space:pre">21 g/t</text>
</svg>
</body></html>
